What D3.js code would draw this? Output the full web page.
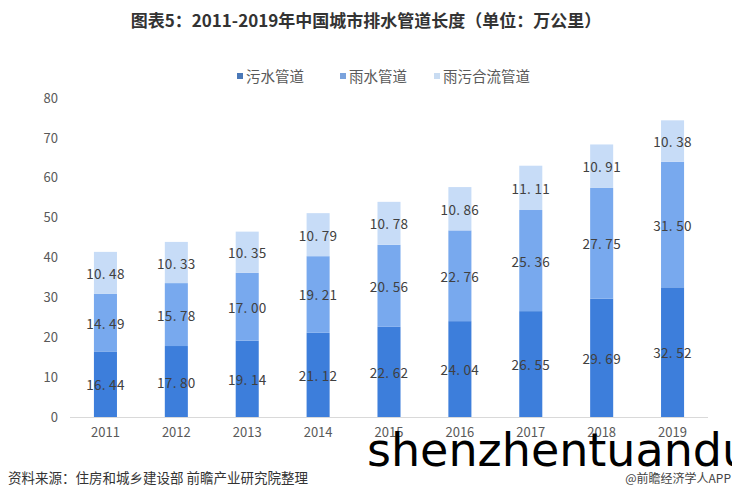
<!DOCTYPE html>
<html><head><meta charset="utf-8">
<script src="https://cdn.jsdelivr.net/npm/d3@7"></script>
<style>body{margin:0;background:#fff}svg{display:block}</style>
</head><body>
<script>
const years = ["2011","2012","2013","2014","2015","2016","2017","2018","2019"];
const sewage = [16.44,17.80,19.14,21.12,22.62,24.04,26.55,29.69,32.52];
const rain = [14.49,15.78,17.00,19.21,20.56,22.76,25.36,27.75,31.50];
const combined = [10.48,10.33,10.35,10.79,10.78,10.86,11.11,10.91,10.38];
const seriesNames = ["污水管道","雨水管道","雨污合流管道"];
const yTicks = [0,10,20,30,40,50,60,70,80];
const colors = ["#3d7edb","#78a9ee","#c7dcf7"];
const legendColors = ["#4a78b8","#7ba3dc","#c9dcf2"];

const W=732,H=498;
const svg=d3.select("body").append("svg").attr("width",W).attr("height",H);
const font='"Noto Sans CJK SC","Noto Sans",sans-serif';

svg.append("text").attr("x",366).attr("y",27).attr("text-anchor","middle")
  .attr("font-family",font).attr("font-weight","bold").attr("font-size",17).attr("fill","#333")
  .text("图表5：2011-2019年中国城市排水管道长度（单位：万公里）");

const x=d3.scaleBand().domain(years).range([70,708]).paddingInner(0.675).paddingOuter(0.3375);
const y=d3.scaleLinear().domain([0,80]).range([417,98]);

const ya=svg.append("g").attr("transform","translate(58,0)")
  .call(d3.axisLeft(y).tickValues(yTicks).tickSize(0).tickPadding(0));
ya.select(".domain").remove();
ya.selectAll("text").attr("font-family",font).attr("font-size",13).attr("fill","#595959");

const xa=svg.append("g").attr("transform","translate(0,417)")
  .call(d3.axisBottom(x).tickSize(0).tickPadding(11));
xa.select(".domain").attr("stroke","#d9d9d9").attr("d","M70,0.5H708");
xa.selectAll("text").attr("font-family",font).attr("font-size",13).attr("fill","#595959");

const data=years.map((yr,i)=>({year:yr,"污水管道":sewage[i],"雨水管道":rain[i],"雨污合流管道":combined[i]}));
const stack=d3.stack().keys(seriesNames)(data);

stack.forEach((s,si)=>{
  const g=svg.append("g");
  g.selectAll("rect").data(s).enter().append("rect")
    .attr("x",d=>x(d.data.year)).attr("width",x.bandwidth())
    .attr("y",d=>y(d[1])).attr("height",d=>y(d[0])-y(d[1]))
    .attr("fill",colors[si]);
  g.selectAll("text").data(s).enter().append("text")
    .attr("x",d=>x(d.data.year)+x.bandwidth()/2)
    .attr("y",d=>(y(d[0])+y(d[1]))/2+6)
    .attr("text-anchor","middle").attr("font-family",font).attr("font-size",13.5)
    .attr("letter-spacing",0.3).attr("fill","#404040")
    .text(d=>(d[1]-d[0]).toFixed(2).replace(".",". "));
});

const legX=[237,340,434];
seriesNames.forEach((n,i)=>{
  svg.append("rect").attr("x",legX[i]).attr("y",73).attr("width",6).attr("height",6).attr("fill",legendColors[i]);
  svg.append("text").attr("x",legX[i]+9).attr("y",82).attr("font-family",font).attr("font-size",14.5)
    .attr("fill","#595959").text(n);
});

svg.append("text").attr("x",8).attr("y",483).attr("font-family",font).attr("font-size",13.5).attr("fill","#333")
  .text("资料来源：住房和城乡建设部 前瞻产业研究院整理");
svg.append("text").attr("x",731).attr("y",483).attr("text-anchor","end").attr("font-family",font).attr("font-size",12).attr("fill","#444")
  .text("@前瞻经济学人APP");
svg.append("text").attr("x",367).attr("y",466).attr("font-family","DejaVu Sans, sans-serif").attr("font-size",46).attr("fill","#000")
  .text("shenzhentuandu");
</script>
</body></html>
